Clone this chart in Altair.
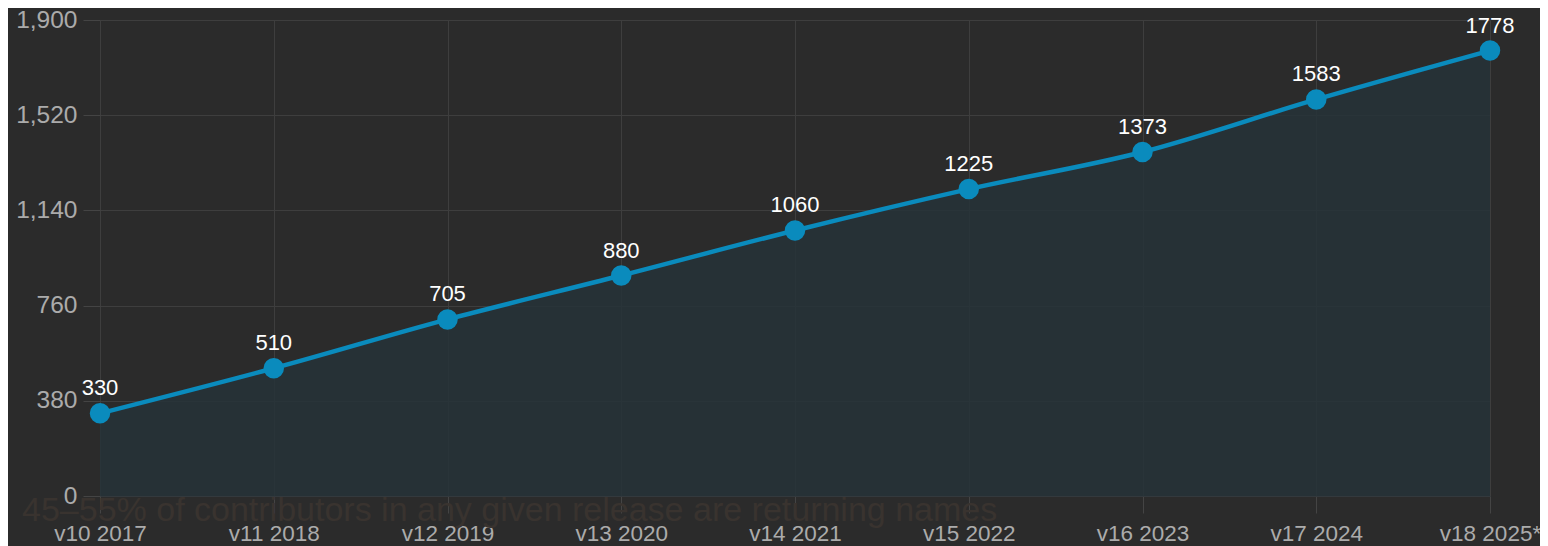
import altair as alt
import pandas as pd

releases = ["v10 2017", "v11 2018", "v12 2019", "v13 2020", "v14 2021",
            "v15 2022", "v16 2023", "v17 2024", "v18 2025*"]
contributors = [330, 510, 705, 880, 1060, 1225, 1373, 1583, 1778]
y_ticks = [0, 380, 760, 1140, 1520, 1900]
note = "45\u201355% of contributors in any given release are returning names"

df = pd.DataFrame({"release": releases, "contributors": contributors})

FONT = "Liberation Sans"

x = alt.X("release:N", sort=releases,
          scale=alt.Scale(type="point", padding=0),
          axis=alt.Axis(title=None, labelAngle=0, labelFontSize=22.5, labelColor="#ababab",
                        labelFont=FONT, tickSize=17, tickColor="#444444", labelPadding=9,
                        grid=True, gridColor="#3e3e3e", domain=True, domainColor="#33393d",
                        labelOverlap=False, labelBound=False))
y = alt.Y("contributors:Q",
          scale=alt.Scale(domain=[0, 1900], nice=False),
          axis=alt.Axis(title=None, values=y_ticks, format=",.0f", labelFontSize=24.5,
                        labelColor="#ababab", labelFont=FONT, tickSize=17,
                        tickColor="#444444", labelPadding=6, grid=True,
                        gridColor="#3e3e3e", domain=False))

base = alt.Chart(df).encode(x=x, y=y)

area = base.mark_area(color="#263238", opacity=0.85, interpolate="monotone")
line = base.mark_line(color="#0a8bbd", strokeWidth=4.5, interpolate="monotone")
points = base.mark_circle(color="#0a8bbd", opacity=1, size=420)
labels = base.mark_text(color="#ffffff", fontSize=22, font=FONT, baseline="middle",
                        dy=-25).encode(text="contributors:Q")

note_df = pd.DataFrame({"t": [note]})
note_mark = alt.Chart(note_df).mark_text(
    align="left", baseline="alphabetic", fontSize=34, font=FONT, color="#39332f"
).encode(x=alt.value(-78), y=alt.value(501), text="t:N")

chart = alt.layer(area, line, points, labels, note_mark).properties(
    width=1390, height=476,
    autosize=alt.AutoSizeParams(type="none"),
    padding={"left": 92, "top": 12, "right": 50, "bottom": 50},
    background="#2b2b2b",
).configure_view(stroke=None)

chart.save("out.html", embed_options={"renderer": "svg", "actions": False})
